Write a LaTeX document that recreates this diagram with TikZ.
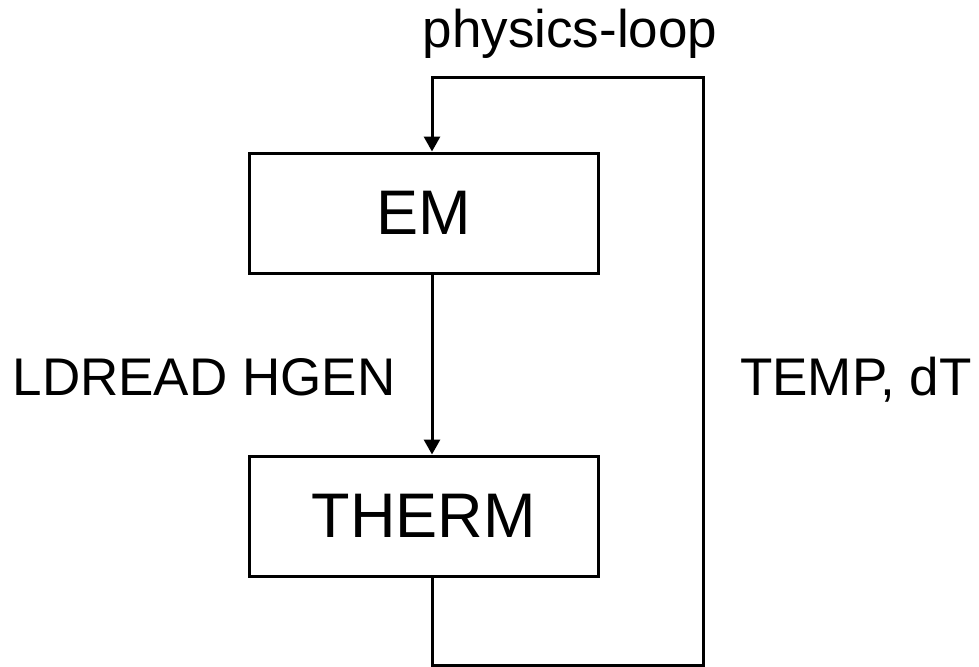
\documentclass[tikz,border=0pt]{standalone}
\usepackage{fontspec}
\setmainfont{Liberation Sans}
\usetikzlibrary{arrows.meta}

\tikzset{
    block/.style={draw, line width=1.5pt, minimum width=174.5pt,
        minimum height=60pt, inner sep=0pt,
        font=\fontsize{31.5}{36}\selectfont},
    flow/.style={line width=1.5pt, -{Triangle[length=7.5pt,width=8pt]}},
    tag/.style={anchor=base, inner sep=0pt,
        font=\fontsize{26.5}{30}\selectfont}
}

\begin{document}
\begin{tikzpicture}[x=0.5pt, y=-0.5pt]
% Fix the page to the size of the reference first
\useasboundingbox (0,0) rectangle (979,666);
% The two solver blocks, one above the other
\node[block] (em) at (423.5,213) {EM};
\node[block] (therm) at (423.5,516) {THERM};
% Corners of the feedback loop. The loop runs
% down from THERM, right, up, and back left to EM
\coordinate (loopbl) at (432,665);
\coordinate (loopbr) at (703,665);
\coordinate (looptr) at (703,77);
\coordinate (looptl) at (432,77);
\draw[flow] (em.south -| looptl) -- (therm.north -| looptl);
\draw[flow] (therm.south -| loopbl) -- (loopbl) -- (loopbr)
    -- (looptr) -- (looptl) -- (em.north -| looptl);
% The labels on the loop and on the arrow between the blocks
\node[tag] (looplabel) at (570,47) {physics-loop};
\node[tag] (fwdlabel) at (204,395) {LDREAD HGEN};
\node[tag] (backlabel) at (856,395) {TEMP, dT};
\end{tikzpicture}
\end{document}
